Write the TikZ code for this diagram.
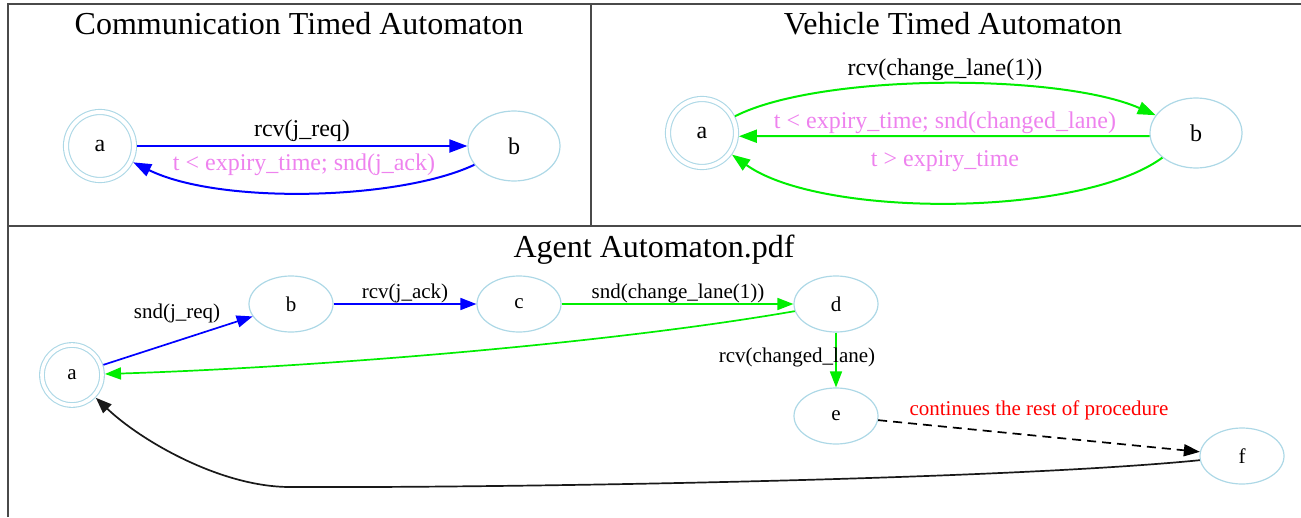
\documentclass[tikz,border=0pt]{standalone}
\usepackage{fontspec}
\setmainfont{Liberation Serif}
\usetikzlibrary{shapes.geometric,arrows.meta}
\definecolor{nodeblue}{HTML}{ADD8E6}
\definecolor{guard}{HTML}{EE82EE}
\definecolor{edgegreen}{HTML}{00EE00}
\definecolor{edgeblue}{HTML}{0000FF}
\definecolor{framegray}{HTML}{4A4A4A}
\begin{document}
\begin{tikzpicture}[x=1pt,y=-1pt,
  panel/.style={draw=framegray, line width=2pt},
  title/.style={font=\fontsize{32}{36}\selectfont, inner sep=0pt},
  toplab/.style={font=\fontsize{24}{28}\selectfont, inner sep=0pt},
  botlab/.style={font=\fontsize{21}{25}\selectfont, inner sep=0pt},
  topstate/.style={ellipse, draw=nodeblue, line width=1.2pt, inner sep=0pt,
    minimum width=92pt, minimum height=70pt, font=\fontsize{24}{28}\selectfont},
  botstate/.style={ellipse, draw=nodeblue, line width=1.2pt, inner sep=0pt,
    minimum width=84pt, minimum height=56pt, font=\fontsize{21}{25}\selectfont},
  topaccept/.style={circle, draw=nodeblue, double=white, double distance=4pt,
    line width=1.1pt, inner sep=0pt, minimum size=68pt, outer sep=3pt,
    font=\fontsize{24}{28}\selectfont},
  botaccept/.style={circle, draw=nodeblue, double=white, double distance=3.6pt,
    line width=1.1pt, inner sep=0pt, minimum size=60pt, outer sep=3pt,
    font=\fontsize{21}{25}\selectfont},
  tedge/.style={line width=2pt, -{Triangle[length=18pt,width=13pt]}},
  bedge/.style={line width=1.7pt, -{Triangle[length=16pt,width=12pt]}}
]
\useasboundingbox (0,0) rectangle (1301,517);

% panel frames
\draw[panel] (8,517) -- (8,4) -- (1301,4);
\draw[panel] (591,4) -- (591,226);
\draw[panel] (8,226) -- (1301,226);

% ---------- Communication timed automaton ----------
\node[title] (t1) at (299,24) {Communication Timed Automaton};
\node[topaccept] (ca) at (100,146) {a};
\node[topstate] (cb) at (514,146) {b};
\draw[tedge, edgeblue] (ca) -- (cb);
\draw[tedge, edgeblue] (cb) .. controls (400,200) and (220,205) .. (ca);
\node[toplab] (c1) at (302,131) {rcv(j\_req)};
\node[toplab, text=guard] (c2) at (304,165) {t < expiry\_time; snd(j\_ack)};

% ---------- Vehicle timed automaton ----------
\node[title] (t2) at (953,24) {Vehicle Timed Automaton};
\node[topaccept] (va) at (702,133) {a};
\node[topstate] (vb) at (1196,133) {b};
\draw[tedge, edgegreen] (va) .. controls (820,73) and (1060,73) .. (vb);
\draw[tedge, edgegreen] (vb.184) -- (va.-5);
\draw[tedge, edgegreen] (vb) .. controls (1080,218) and (820,218) .. (va);
\node[toplab] (v1) at (945,70) {rcv(change\_lane(1))};
\node[toplab, text=guard] (v2) at (945,123) {t < expiry\_time; snd(changed\_lane)};
\node[toplab, text=guard] (v3) at (945,161) {t > expiry\_time};

% ---------- Agent automaton ----------
\node[title] (t3) at (654,250) {Agent Automaton.pdf};
\node[botaccept] (aa) at (72,375) {a};
\node[botstate] (ab) at (291,304) {b};
\node[botstate] (ac) at (519,304) {c};
\node[botstate] (ad) at (836,304) {d};
\node[botstate] (ae) at (836,416) {e};
\node[botstate] (af) at (1242,456) {f};

\draw[bedge, edgeblue] (aa) -- (ab);
\draw[bedge, edgeblue] (ab) -- (ac);
\draw[bedge, edgegreen] (ac) -- (ad);
\draw[bedge, edgegreen] (ad) .. controls (600,345) and (300,368) .. (aa);
\draw[bedge, edgegreen] (ad) -- (ae);
\draw[bedge, black, dashed, dash pattern=on 9pt off 6pt] (ae) -- (af);
\draw[bedge, black!90] (af) .. controls (1000,480) and (500,488) .. (290,487)
  .. controls (220,487) and (140,440) .. (aa);

\node[botlab] (g1) at (177,313) {snd(j\_req)};
\node[botlab] (g2) at (405,293) {rcv(j\_ack)};
\node[botlab] (g3) at (678,293) {snd(change\_lane(1))};
\node[botlab] (g4) at (797,357) {rcv(changed\_lane)};
\node[botlab, text=red] (g5) at (1039,410) {continues the rest of procedure};
\end{tikzpicture}
\end{document}
